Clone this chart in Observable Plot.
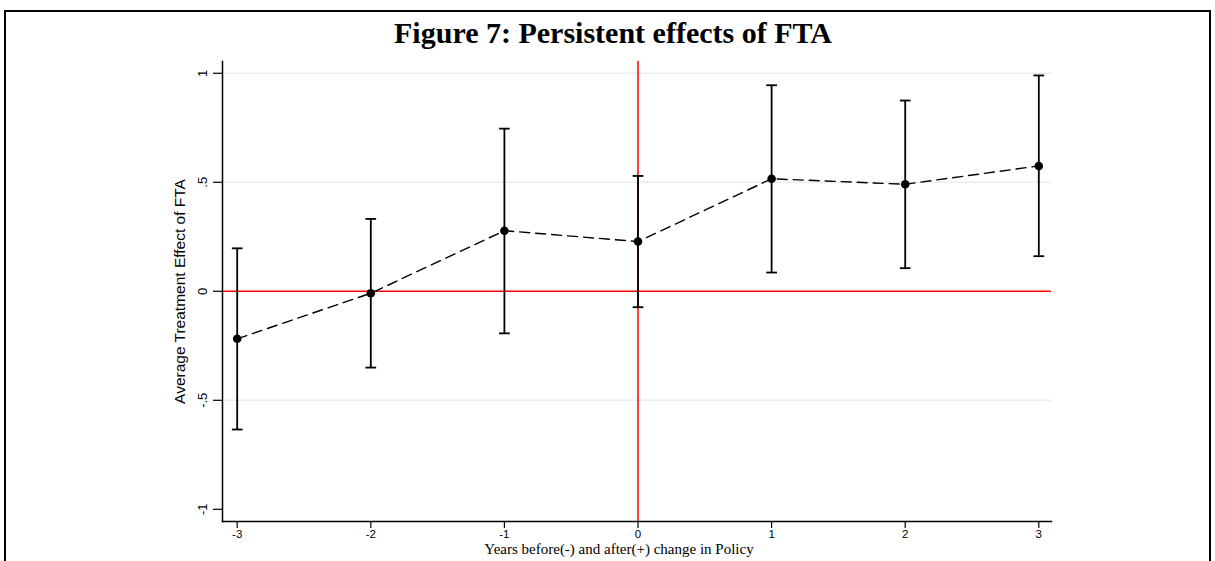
<!DOCTYPE html>
<html>
<head>
<meta charset="utf-8">
<script src="https://cdn.jsdelivr.net/npm/d3@7"></script>
<script src="https://cdn.jsdelivr.net/npm/@observablehq/plot@0.6"></script>
<style>
  html, body { margin: 0; padding: 0; background: #fff; }
  #wrap { position: relative; width: 1215px; height: 561px; overflow: hidden; }
  #frame { position: absolute; left: 4px; top: 10px; width: 1207px; height: 600px; border: 2px solid #000; box-sizing: border-box; pointer-events: none; }
  #title { position: absolute; left: 0; top: 0; width: 1226px; height: 58px; text-align: center;
           font-family: "Liberation Serif", "Times New Roman", serif; font-weight: bold; font-size: 30px; line-height: 50px; padding-top: 8px; box-sizing: border-box; color: #000; white-space: nowrap; }
  #chart { position: absolute; left: 0; top: 50px; }
</style>
</head>
<body>
<div id="wrap">
  <div id="title">Figure 7: Persistent effects of FTA</div>
  <div id="chart"></div>
  <div id="frame"></div>
</div>
<script>
// Data
const years = [-3, -2, -1, 0, 1, 2, 3];
const effect = [-0.218, -0.009, 0.278, 0.228, 0.516, 0.491, 0.575];
const ciLower = [-0.634, -0.350, -0.193, -0.073, 0.086, 0.106, 0.161];
const ciUpper = [0.197, 0.332, 0.746, 0.529, 0.945, 0.875, 0.990];
const yTicks = [-1, -0.5, 0, 0.5, 1];
const yTickLabels = ["-1", "-.5", "0", ".5", "1"];
const gridValues = [-0.5, 0.5, 1];
const xTicks = [-3, -2, -1, 0, 1, 2, 3];

const data = years.map((x, i) => ({x, y: effect[i], lo: ciLower[i], hi: ciUpper[i]}));
const capHalf = 0.04;

const chart = Plot.plot({
  width: 1215,
  height: 511,
  marginLeft: 222,
  marginRight: 164,
  marginTop: 11,
  marginBottom: 40,
  x: {domain: [-3.11, 3.095]},
  y: {domain: [-1.056, 1.054]},
  style: {background: "transparent", color: "#000"},
  marks: [
    Plot.ruleY(gridValues, {stroke: "#e8eff0", strokeWidth: 1.5}),
    Plot.ruleY([0], {stroke: "#ff0000", strokeWidth: 1.5}),
    Plot.ruleX([0], {stroke: "#ff0000", strokeWidth: 1.5}),
    Plot.axisY({
      ticks: yTicks,
      tickFormat: (d) => yTickLabels[yTicks.indexOf(d)],
      tickSize: 9,
      tickPadding: 7,
      tickRotate: -90,
      fontSize: 13,
      fontFamily: "Liberation Sans, Arial, sans-serif",
      stroke: "#000",
      strokeWidth: 1.2,
      label: null
    }),
    Plot.axisX({
      ticks: xTicks,
      tickFormat: (d) => String(d),
      tickSize: 7,
      tickPadding: 1,
      fontSize: 11.5,
      fontFamily: "Liberation Sans, Arial, sans-serif",
      stroke: "#000",
      strokeWidth: 1.2,
      label: null
    }),
    Plot.frame({anchor: "left", stroke: "#000", strokeWidth: 1.5}),
    Plot.frame({anchor: "bottom", stroke: "#000", strokeWidth: 1.5}),
    Plot.ruleX(data, {x: "x", y1: "lo", y2: "hi", stroke: "#000", strokeWidth: 1.8}),
    Plot.link(data, {x1: (d) => d.x - capHalf, x2: (d) => d.x + capHalf, y1: "hi", y2: "hi", stroke: "#000", strokeWidth: 1.8}),
    Plot.link(data, {x1: (d) => d.x - capHalf, x2: (d) => d.x + capHalf, y1: "lo", y2: "lo", stroke: "#000", strokeWidth: 1.8}),
    Plot.line(data, {x: "x", y: "y", stroke: "#000", strokeWidth: 1.4, strokeDasharray: "10,6"}),
    Plot.dot(data, {x: "x", y: "y", r: 4.3, fill: "#000", stroke: "none"}),
    Plot.text(["Average Treatment Effect of FTA"], {
      frameAnchor: "left", dx: -42, rotate: -90, text: (d) => d, textAnchor: "middle",
      fontSize: 15.5, fontFamily: "Liberation Sans, Arial, sans-serif", fill: "#000"
    }),
    Plot.text(["Years before(-) and after(+) change in Policy"], {
      frameAnchor: "bottom", dx: -18, dy: 32, text: (d) => d,
      fontSize: 15, fontFamily: "Liberation Serif, Times New Roman, serif", fill: "#000"
    })
  ]
});
document.getElementById("chart").appendChild(chart);
</script>
</body>
</html>
